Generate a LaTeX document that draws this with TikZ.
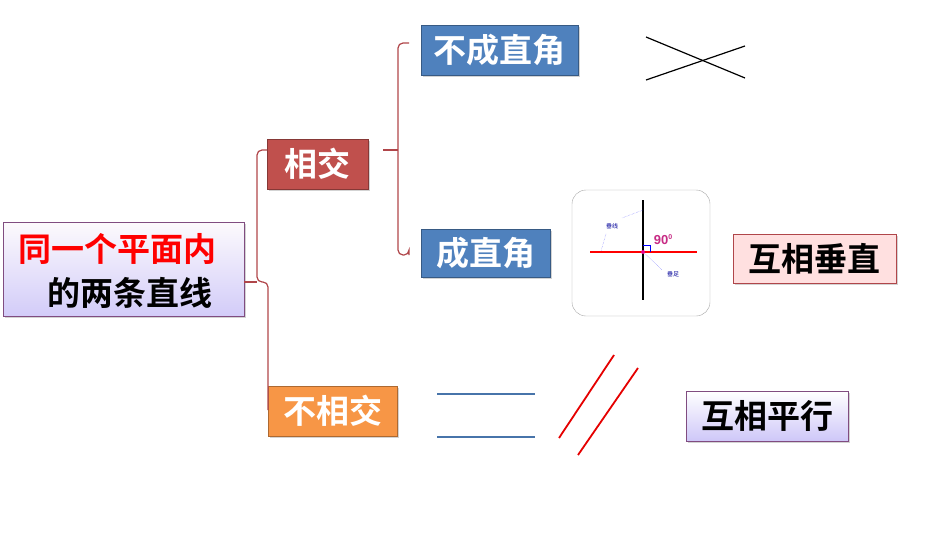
\documentclass[tikz,border=0pt]{standalone}
\usepackage{fontspec}
\setmainfont{Noto Sans CJK SC}[BoldFont={* Bold}]
\newfontfamily\cjkb{Noto Sans CJK SC Bold}
\newfontfamily\arialb{Liberation Sans}
\usetikzlibrary{shadows}
\definecolor{bred}{HTML}{C0504D}
\definecolor{bora}{HTML}{F79646}
\definecolor{bblu}{HTML}{4F81BD}
\definecolor{brace}{HTML}{B0464A}
\begin{document}
\begin{tikzpicture}[x=1pt,y=-1pt,
  bx/.style={draw=#1!70!black,fill=#1,text=white,font=\cjkb\fontsize{33}{36}\selectfont,inner sep=0pt,anchor=north west,drop shadow={opacity=0.35,shadow xshift=2pt,shadow yshift=-2pt}},
  lbl/.style={font=\cjkb\fontsize{33}{36}\selectfont,inner sep=0pt},
  br/.style={draw=brace,line width=1.2pt,rounded corners=5pt}]
\useasboundingbox (0,0) rectangle (950,535);
% root
\shade[top color=white!90!violet!20,bottom color=violet!25!blue!20,draw=gray!60!violet,drop shadow={opacity=0.35,shadow xshift=2pt,shadow yshift=-2pt}] (3,222) rectangle (244,316);
\node[lbl,text=red] (root) at (117,249) {同一个平面内};
\node[lbl,text=black] (root2) at (130,293) {的两条直线};
\coordinate (rootE) at (244,282);
% level 1
\node[bx=bred,minimum width=101pt,minimum height=50pt] (xj) at (267,139) {相交};
\node[bx=bora,minimum width=129pt,minimum height=50pt] (bxj) at (268,386) {不相交};
\node[bx=bblu,minimum width=157pt,minimum height=50pt] (bcz) at (421,25) {不成直角};
\node[bx=bblu,minimum width=129pt,minimum height=48pt] (cz) at (421,229) {成直角};
% braces
\draw[br] (267,150) -| (257,282) -| (268,410);
\draw[brace,line width=1.2pt] (rootE) -- (257,282);
\draw[br] (409,43) -| (398,255) -| (409,255);
\draw[brace,line width=1.2pt] (383,150) -- (398,150);
% result boxes
\node[draw=brace,fill=red!12,minimum width=163pt,minimum height=49pt,anchor=north west,inner sep=0pt,lbl,drop shadow={opacity=0.35,shadow xshift=2pt,shadow yshift=-2pt}] (cz2) at (733,234) {互相垂直};
\node[draw=gray!60!violet,top color=white,bottom color=violet!25!blue!22,minimum width=162pt,minimum height=50pt,anchor=north west,inner sep=0pt,lbl,drop shadow={opacity=0.35,shadow xshift=2pt,shadow yshift=-2pt}] (px) at (686,391) {互相平行};
% crossing lines
\draw[line width=1.2pt] (646,37) -- (745,78);
\draw[line width=1.2pt] (646,80) -- (745,46);
% parallel lines
\draw[bblu!90!black,line width=2pt] (437,394) -- (535,394);
\draw[bblu!90!black,line width=2pt] (437,437) -- (535,437);
\draw[red!90!black,line width=1.8pt] (559,438) -- (614,355);
\draw[red!90!black,line width=1.8pt] (578,455) -- (638,368);
% perpendicular picture
\draw[gray!70,rounded corners=14pt,fill=white] (572,190) rectangle (710,316);
\draw[red,line width=2pt] (590,252) -- (697,252);
\draw[black,line width=2pt] (643,200) -- (643,300);
\draw[blue,line width=1pt] (643,245) -| (650,252);
\fill[magenta] (643,252) circle (2pt);
\node[font=\arialb\bfseries\fontsize{13}{13}\selectfont,text=magenta!80!black,inner sep=0pt] (n90) at (663,240) {90\raisebox{5pt}{\fontsize{7}{7}\selectfont 0}};
\node[font=\fontsize{6}{6}\selectfont,text=blue!60!black,inner sep=0pt] (cx) at (612,226) {垂线};
\node[font=\fontsize{6}{6}\selectfont,text=blue!60!black,inner sep=0pt] (cf) at (673,274) {垂足};
\draw[blue!60,densely dotted] (643,210) -- (622,218);
\draw[blue!60,densely dotted] (606,234) -- (601,251);
\draw[blue!60,densely dotted] (643,252) -- (662,270);
\end{tikzpicture}
\end{document}
